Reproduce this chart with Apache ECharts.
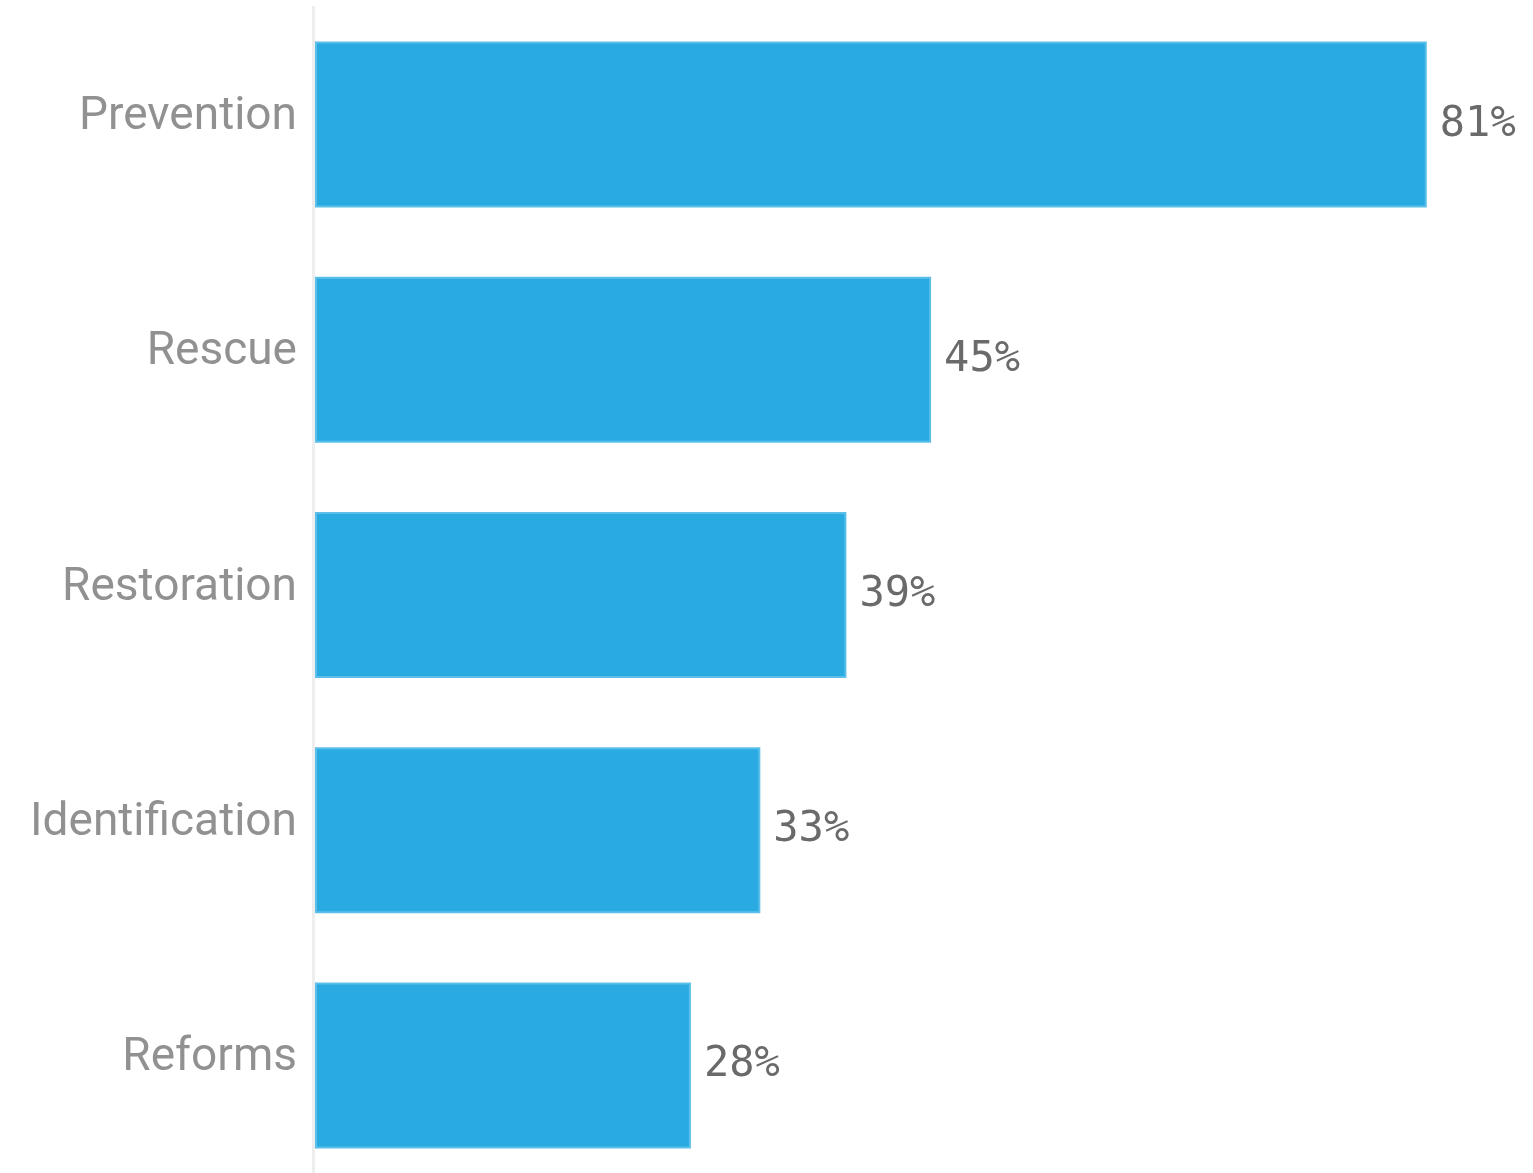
<!DOCTYPE html>
<html>
<head>
<meta charset="utf-8">
<script src="https://cdn.jsdelivr.net/npm/echarts@6/dist/echarts.min.js"></script>
<style>
html,body{margin:0;padding:0;background:#fff;}
#chart{width:1533px;height:1173px;}
</style>
</head>
<body>
<div id="chart"></div>
<script>
const categories = ['Prevention', 'Rescue', 'Restoration', 'Identification', 'Reforms'];
const values = [81, 45.3, 39.2, 33, 28];

const chart = echarts.init(document.getElementById('chart'), null, {renderer: 'canvas'});
chart.setOption({
  animation: false,
  backgroundColor: '#ffffff',
  grid: {left: 316, right: 9, top: 7, height: 1176, containLabel: false, outerBoundsMode: 'none'},
  xAxis: {
    type: 'value', min: 1, max: 88,
    show: false
  },
  yAxis: {
    type: 'category',
    data: categories,
    inverse: true,
    offset: 3,
    axisLine: {show: true, lineStyle: {color: '#eeeeee', width: 3}},
    axisTick: {show: false},
    splitLine: {show: false},
    axisLabel: {
      margin: 16,
      color: '#919191',
      fontFamily: 'Roboto',
      fontWeight: 400,
      fontSize: 46,
      verticalAlign: 'bottom',
      lineHeight: 14
    }
  },
  series: [{
    type: 'bar',
    data: values,
    barWidth: 166,
    itemStyle: {color: '#29abe2', borderColor: '#5cbfea', borderWidth: 2},
    label: {
      show: true,
      position: 'right',
      distance: 13,
      formatter: p => Math.round(p.value) + '%',
      color: '#6a6a6a',
      fontFamily: 'DejaVu Sans Mono',
      fontSize: 42
    }
  }]
});
</script>
</body>
</html>
